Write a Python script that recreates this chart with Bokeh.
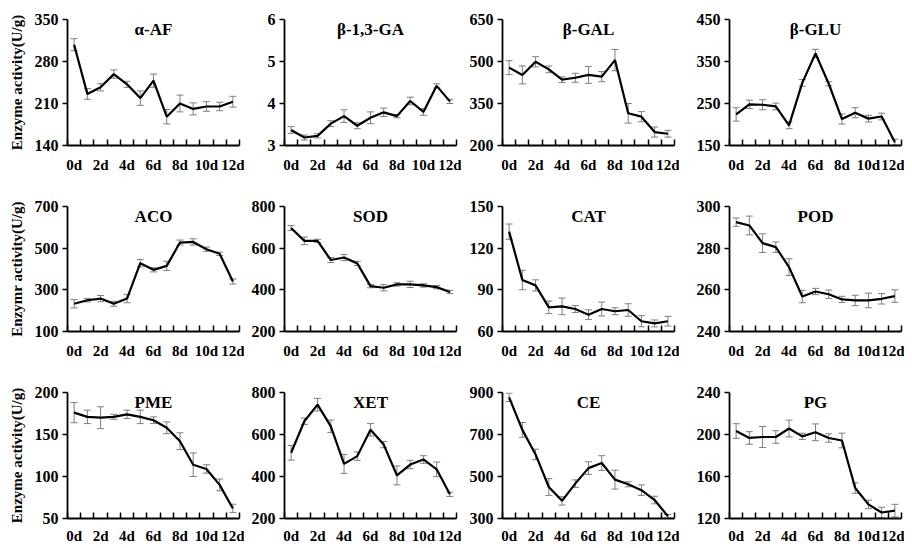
from bokeh.plotting import figure
from bokeh.models import Range1d, FixedTicker, Whisker, ColumnDataSource, Label, TeeHead
from bokeh.layouts import row, column
from bokeh.embed import file_html
from bokeh.resources import INLINE

days = list(range(13))
day_labels = {0: "0d", 2: "2d", 4: "4d", 6: "6d", 8: "8d", 10: "10d", 12: "12d"}

names = ["α-AF", "β-1,3-GA", "β-GAL", "β-GLU",
         "ACO", "SOD", "CAT", "POD",
         "PME", "XET", "CE", "PG"]

af_mean = [308, 226, 237, 259, 242, 219, 248, 188, 210, 201, 205, 205, 213]
af_err = [10, 9, 6, 7, 5, 12, 11, 12, 14, 10, 8, 7, 9]
ga_mean = [3.37, 3.19, 3.23, 3.52, 3.70, 3.47, 3.66, 3.79, 3.70, 4.06, 3.80, 4.42, 4.05]
ga_err = [0.08, 0.06, 0.05, 0.07, 0.15, 0.07, 0.14, 0.10, 0.04, 0.09, 0.08, 0.05, 0.05]
gal_mean = [478, 452, 499, 472, 435, 442, 452, 446, 505, 315, 303, 248, 242]
gal_err = [25, 32, 18, 12, 10, 16, 30, 18, 38, 35, 18, 18, 12]
glu_mean = [224, 248, 247, 243, 198, 299, 369, 297, 213, 228, 214, 219, 158]
glu_err = [16, 10, 12, 8, 8, 8, 10, 5, 12, 12, 8, 8, 7]
aco_mean = [233, 250, 258, 233, 258, 428, 396, 415, 527, 530, 495, 473, 340]
aco_err = [20, 8, 15, 12, 20, 18, 10, 22, 12, 15, 10, 8, 12]
sod_mean = [697, 635, 635, 543, 555, 527, 418, 410, 426, 426, 421, 413, 390]
sod_err = [12, 18, 8, 12, 15, 10, 8, 15, 8, 15, 8, 8, 8]
cat_mean = [131.9, 97.1, 93.2, 77.4, 78.1, 76.2, 72.1, 76.2, 74.6, 75.5, 67.4, 65.8, 67.4]
cat_err = [5.5, 7, 4, 4.5, 6, 2.5, 3.5, 5, 2.5, 4.5, 4, 2.5, 3.5]
pod_mean = [292.5, 290.9, 282.4, 280.5, 270.9, 256.8, 259.2, 257.9, 255.4, 254.9, 254.9, 255.7, 257.0]
pod_err = [2, 4.5, 4.5, 2.5, 4, 3, 1.5, 2, 1.5, 2.5, 3.5, 2.5, 3]
pme_mean = [176, 171, 170, 171, 174, 171, 167, 158, 142, 114, 109, 90, 62]
pme_err = [12, 8, 13, 3, 5, 8, 4, 7, 10, 14, 5, 7, 5]
xet_mean = [513, 663, 742, 639, 460, 497, 623, 552, 405, 457, 481, 434, 315]
xet_err = [35, 15, 30, 30, 45, 20, 30, 15, 45, 20, 18, 35, 10]
ce_mean = [877, 722, 605, 450, 384, 466, 540, 564, 485, 463, 435, 388, 311]
ce_err = [20, 35, 25, 40, 20, 18, 30, 35, 45, 12, 25, 18, 8]
pg_mean = [203.3, 196.7, 197.6, 197.6, 205.7, 198.2, 202.1, 196.7, 194.3, 149.0, 133.4, 125.7, 127.5]
pg_err = [7, 6, 10, 6, 8, 3, 8, 4, 7, 5, 4, 5, 6]

means = [af_mean, ga_mean, gal_mean, glu_mean, aco_mean, sod_mean, cat_mean, pod_mean,
         pme_mean, xet_mean, ce_mean, pg_mean]
errs = [af_err, ga_err, gal_err, glu_err, aco_err, sod_err, cat_err, pod_err,
        pme_err, xet_err, ce_err, pg_err]
y_ticks = [[140, 210, 280, 350], [3, 4, 5, 6], [200, 350, 500, 650], [150, 250, 350, 450],
           [100, 300, 500, 700], [200, 400, 600, 800], [60, 90, 120, 150], [240, 260, 280, 300],
           [50, 100, 150, 200], [200, 400, 600, 800], [300, 500, 700, 900], [120, 160, 200, 240]]
row_ylabels = ["Enzyme activity(U/g)", "Enzymr activity(U/g)", "Enzyme activity(U/g)"]

FONT = "Liberation Serif"
FW = 172
frame_h = [126, 125, 126]
lefts = [67, 40, 41, 50]
rights = [5, 5, 5, 3]
tops = [19, 31, 31]
bottoms = [30, 30, 27]
standoffs = [11, 11, 9]


def make_panel(i):
    r, c = divmod(i, 4)
    yt = y_ticks[i]
    p = figure(frame_width=FW, frame_height=frame_h[r], output_backend="svg",
               toolbar_location=None, x_range=Range1d(-0.5, 12.5),
               y_range=Range1d(yt[0], yt[-1]),
               min_border_left=lefts[c], min_border_right=rights[c],
               min_border_top=tops[r], min_border_bottom=bottoms[r])
    p.outline_line_color = None
    p.grid.visible = False
    p.background_fill_color = "white"
    p.border_fill_color = "white"

    lo = [m - e for m, e in zip(means[i], errs[i])]
    hi = [m + e for m, e in zip(means[i], errs[i])]
    src = ColumnDataSource(dict(x=days, y=means[i], lo=lo, hi=hi))
    p.line("x", "y", source=src, line_color="black", line_width=2.2)
    w = Whisker(base="x", upper="hi", lower="lo", source=src,
                line_color="#7f7f7f", line_width=1,
                upper_head=TeeHead(size=7, line_color="#7f7f7f", line_width=1),
                lower_head=TeeHead(size=7, line_color="#7f7f7f", line_width=1))
    p.add_layout(w)

    xa = p.xaxis[0]
    xa.ticker = FixedTicker(ticks=[0, 2, 4, 6, 8, 10, 12],
                            minor_ticks=[k - 0.5 for k in range(14)])
    xa.major_label_overrides = day_labels
    xa.major_tick_in = 0
    xa.major_tick_out = 0
    xa.minor_tick_in = 6
    xa.minor_tick_out = 0
    xa.minor_tick_line_width = 1.5
    xa.minor_tick_line_color = "black"
    xa.major_label_standoff = standoffs[r]
    xa.major_label_text_font_size = "15px"

    ya = p.yaxis[0]
    ya.ticker = FixedTicker(ticks=yt, minor_ticks=[])
    ya.major_tick_in = 0
    ya.major_tick_out = 5
    ya.major_tick_line_width = 1.5
    ya.minor_tick_in = 0
    ya.minor_tick_out = 0
    ya.major_label_standoff = 4
    ya.major_label_text_font_size = "16px"
    if c == 0:
        ya.axis_label = row_ylabels[r]
        ya.axis_label_text_font = FONT
        ya.axis_label_text_font_style = "bold"
        ya.axis_label_text_font_size = "15px"
        ya.axis_label_text_color = "black"
        ya.axis_label_standoff = 7

    for ax in (xa, ya):
        ax.axis_line_color = "black"
        ax.axis_line_width = 1.8
        ax.major_tick_line_color = "black"
        ax.major_label_text_font = FONT
        ax.major_label_text_font_style = "bold"
        ax.major_label_text_color = "black"

    p.add_layout(Label(x=6, y=yt[-1], text=names[i], text_align="center",
                       text_baseline="top", text_font=FONT, text_font_style="bold",
                       text_font_size="17px", text_color="black", y_offset=0))
    return p


panels = [make_panel(i) for i in range(12)]
layout = column(row(*panels[0:4]), row(*panels[4:8]), row(*panels[8:12]))

open("out.html", "w").write(file_html(layout, INLINE))
